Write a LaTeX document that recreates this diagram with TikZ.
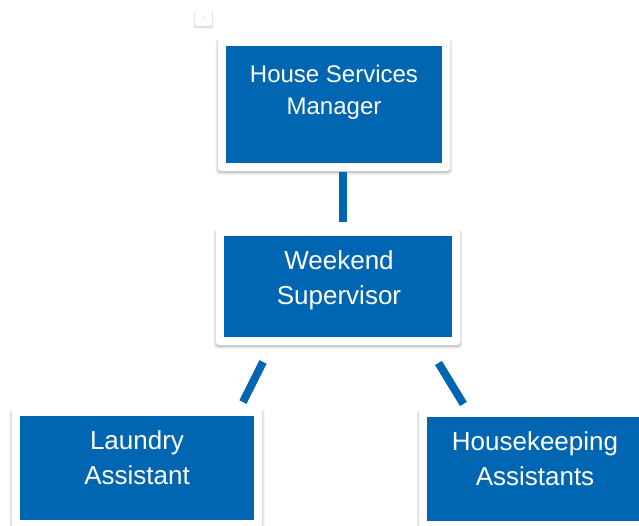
\documentclass[tikz,border=0pt]{standalone}
\usepackage{fontspec}
\setmainfont{Liberation Sans}
\usetikzlibrary{shadows}
\definecolor{azul}{RGB}{0,102,178}
\newcommand{\linha}[1][]{\draw[azul,line width=8pt,#1]}

\begin{document}
\begin{tikzpicture}[x=1pt,y=-1pt,
    sombra/.style={general shadow={shadow xshift=0pt,shadow yshift=-2.5pt,shadow scale=1.02,fill=black,opacity=0.06},
      general shadow={shadow xshift=0pt,shadow yshift=-2pt,shadow scale=1.01,fill=black,opacity=0.08},
      general shadow={shadow xshift=0pt,shadow yshift=-1.5pt,fill=black,opacity=0.12}},
    caixa/.style={fill=white,rounded corners=3pt,inner sep=0pt,outer sep=0pt,sombra,
      path picture={\fill[azul,sharp corners] ([shift={(8pt,8pt)}]path picture bounding box.south west)
        rectangle ([shift={(-8pt,-8pt)}]path picture bounding box.north east);}},
    rotulo/.style={text=white,align=center,anchor=base,inner sep=0pt},
    menor/.style={font=\fontsize{24}{32}\selectfont},
    grande/.style={font=\fontsize{26}{34.5}\selectfont}]
      \useasboundingbox (0,0) rectangle (639,525);

      % marca
      \node(ponto) [fill=white,rounded corners=2pt,minimum width=17pt,minimum height=16pt,
        general shadow={shadow xshift=0pt,shadow yshift=-1.5pt,shadow scale=1.12,fill=black,opacity=0.08},
        general shadow={shadow xshift=0pt,shadow yshift=-1pt,shadow scale=1.05,fill=black,opacity=0.1}] at (203.5,18)
        {\textcolor{azul}{\fontsize{6}{6}\selectfont .}};

      % nível 0
      \node(hsm) [caixa,minimum width=232pt,minimum height=133pt] at (334,104.5) {};
      \node(hsmt) [rotulo,menor] at ([yshift=-76.3pt]hsm.north) {House Services\\Manager};

      % nível 1
      \node(ws) [caixa,minimum width=244pt,minimum height=117pt] at (338,286.5) {};
      \node(wst) [rotulo,grande] at ([xshift=1pt,yshift=-76.3pt]ws.north) {Weekend\\Supervisor};

      \linha[shorten <=1.3pt,shorten >=5.7pt] ([xshift=9pt]hsm.south) -- ([xshift=5pt]ws.north);

      % nível 2
      \node(la) [caixa,minimum width=250pt,minimum height=120pt] at (137,468) {};
      \node(lat) [rotulo,grande] at ([yshift=-76.3pt]la.north) {Laundry\\Assistant};
      \node(ha) [caixa,minimum width=241pt,minimum height=120pt] at (539.5,469) {};
      \node(hat) [rotulo,grande] at ([xshift=-4.5pt,yshift=-76pt]ha.north) {Housekeeping\\Assistants};

      \linha[shorten <=19pt,shorten >=6.7pt] ([xshift=-66.5pt]ws.south) -- ([xshift=103pt]la.north);
      \linha[shorten <=21.1pt,shorten >=5.9pt] ([xshift=89.5pt]ws.south) -- ([xshift=-73pt]ha.north);
\end{tikzpicture}
\end{document}
